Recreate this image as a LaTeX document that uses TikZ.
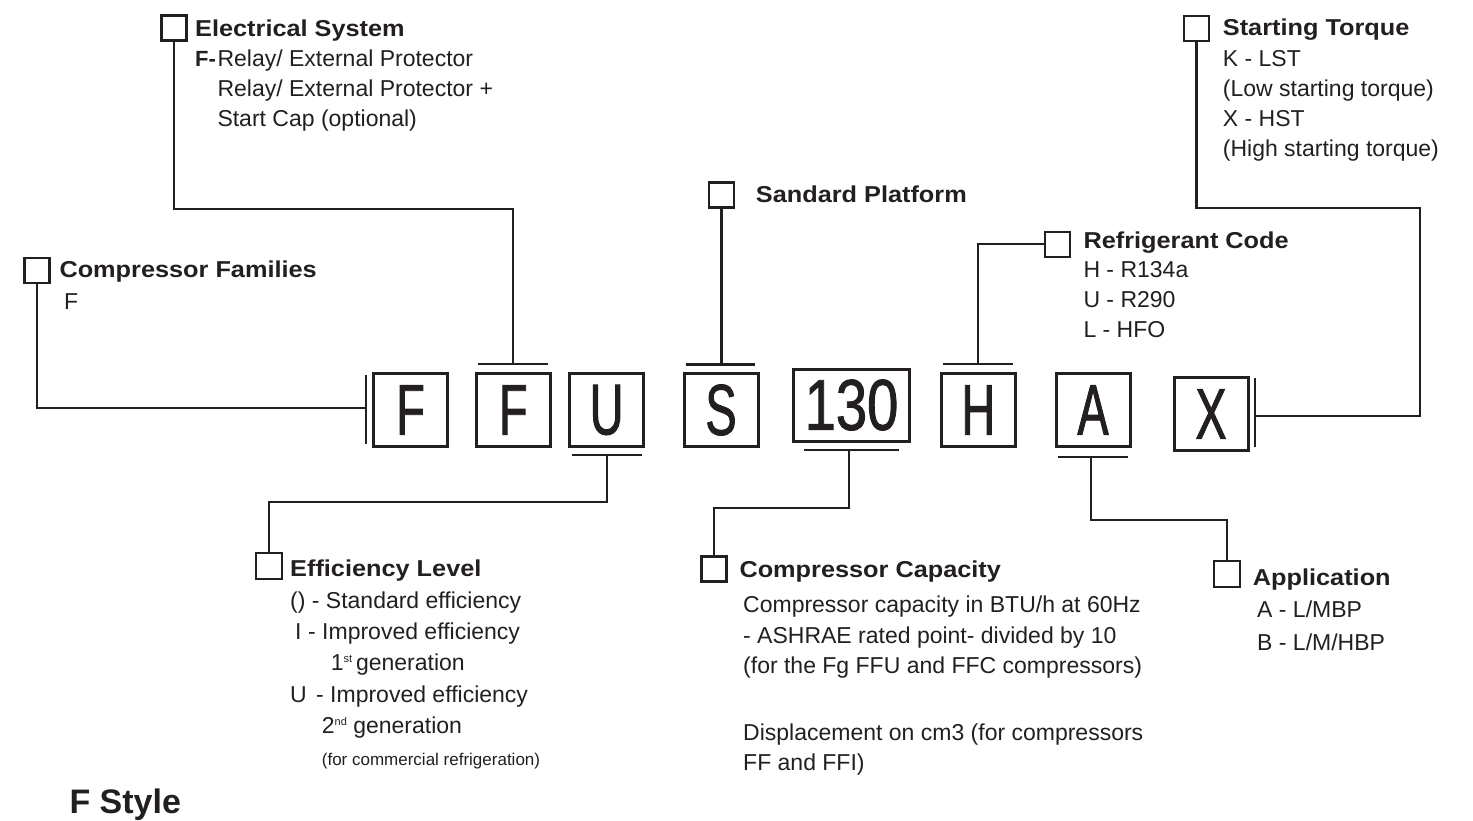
\documentclass[tikz,border=0pt]{standalone}
\usepackage{fontspec}
\setmainfont{Liberation Sans}
\newfontfamily\hfont[FakeStretch=1.1]{Liberation Sans Bold}
\newfontfamily\titlefont{Liberation Sans Bold}
\newfontfamily\bigfont[FakeStretch=0.65,FakeBold=1.2]{Liberation Sans}
\newfontfamily\digfont[FakeStretch=0.78,FakeBold=1.2]{Liberation Sans}
\definecolor{ink}{RGB}{35,31,32}
\begin{document}
\begin{tikzpicture}[x=1pt,y=-1pt,
  cell/.style={draw=ink, line width=3pt, minimum width=74pt, minimum height=73pt, inner sep=0pt,
    font=\bigfont\fontsize{72}{72}\selectfont, text=ink},
  tag/.style={draw=ink, line width=2.4pt, minimum size=25pt, inner sep=0pt},
  wire/.style={draw=ink, line width=2.2pt},
  hd/.style={anchor=base west, inner sep=0pt, font=\hfont\fontsize{23}{27}\selectfont, text=ink},
  tx/.style={anchor=base west, inner sep=0pt, font=\fontsize{23}{27}\selectfont, text=ink},
  sm/.style={anchor=base west, inner sep=0pt, font=\fontsize{17}{20}\selectfont, text=ink},
]
\useasboundingbox (0,0) rectangle (1473,820);

% letter cells
\node[cell] (b1) at (410.5,410) {F};
\node[cell] (b2) at (513.3,410) {F};
\node[cell] (b3) at (606.7,410) {U};
\node[cell] (b4) at (721,410) {S};
\node[cell, minimum width=116pt, minimum height=72pt, font=\digfont\fontsize{72}{72}\selectfont] (b5) at (851.5,405) {130};
\node[cell] (b6) at (978.3,410) {H};
\node[cell] (b7) at (1093,410) {A};
\node[cell] (b8) at (1211,414) {X};

% bars
\coordinate (b1bar) at (366,408.3);
\coordinate (b2bar) at (513.3,364.3);
\coordinate (b3bar) at (606.7,455);
\coordinate (b4bar) at (721.5,364.5);
\coordinate (b5bar) at (849,450);
\coordinate (b6bar) at (978.3,364.3);
\coordinate (b7bar) at (1090.7,457.3);
\coordinate (b8bar) at (1255,415.7);
\draw[wire] (366,375) -- (366,444);
\draw[wire] (478.3,364.3) -- (547.7,364.3);
\draw[wire] (571.7,455) -- (641.7,455);
\draw[wire] (685.7,364.5) -- (754.6,364.5);
\draw[wire] (803.6,450) -- (899,450);
\draw[wire] (943.3,364.3) -- (1012.7,364.3);
\draw[wire] (1058,457.3) -- (1127.7,457.3);
\draw[wire] (1255,378) -- (1255,446.7);

% tag boxes
\node[tag] (cfBox) at (37,270.3) {};
\node[tag] (esBox) at (174,27.8) {};
\node[tag] (spBox) at (721.5,195) {};
\node[tag] (rcBox) at (1057.5,244.2) {};
\node[tag] (stBox) at (1196.5,28.2) {};
\node[tag, minimum size=26pt] (elBox) at (269,565.8) {};
\node[tag] (ccBox) at (714,568.8) {};
\node[tag, minimum size=26pt] (apBox) at (1227,574.2) {};

% elbow levels
\coordinate (esY) at (0,209);
\coordinate (stC) at (1420,208);
\coordinate (elY) at (0,502.3);
\coordinate (ccY) at (0,508);
\coordinate (apY) at (0,520);

% connectors
\draw[wire] (cfBox.south) |- (b1bar);
\draw[wire] (esBox.south) |- (esY -| b2bar) -- (b2bar);
\draw[wire] (spBox.south) -- (b4bar);
\draw[wire] (rcBox.west) -| (b6bar);
\draw[wire] (stBox.south) |- (stC) |- (b8bar);
\draw[wire] (b3bar) -- (b3bar |- elY) -| (elBox.north);
\draw[wire] (b5bar) -- (b5bar |- ccY) -| (ccBox.north);
\draw[wire] (b7bar) -- (b7bar |- apY) -| (apBox.north);

% Compressor Families
\node[hd] (cfH) at (59.3,277) {Compressor Families};
\node[tx] (cf1) at (64,309) {F};

% Electrical System
\node[hd] (esH) at (195,36) {Electrical System};
\node[anchor=base west, inner sep=0pt, font=\titlefont\fontsize{22}{26}\selectfont, text=ink] (esF) at (195,66.7) {F-};
\node[tx] (es1) at (217.3,66.7) {Relay/ External Protector};
\node[tx] (es2) at (217.3,96.7) {Relay/ External Protector +};
\node[tx] (es3) at (217.3,126.7) {Start Cap (optional)};

% Sandard Platform
\node[hd] (spH) at (755.7,202.3) {Sandard Platform};

% Starting Torque
\node[hd] (stH) at (1222.7,35) {Starting Torque};
\node[tx] (st1) at (1222.7,66.7) {K - LST};
\node[tx] (st2) at (1222.7,96.7) {(Low starting torque)};
\node[tx] (st3) at (1222.7,126.7) {X - HST};
\node[tx] (st4) at (1222.7,156.7) {(High starting torque)};

% Refrigerant Code
\node[hd] (rcH) at (1083.3,248) {Refrigerant Code};
\node[tx] (rc1) at (1083.3,277) {H - R134a};
\node[tx] (rc2) at (1083.3,307) {U - R290};
\node[tx] (rc3) at (1083.3,337) {L - HFO};

% Efficiency Level
\node[hd] (elH) at (290,576.7) {Efficiency Level};
\node[tx] (el1) at (290,608) {() - Standard efficiency};
\node[tx] (el2a) at (295,639) {I};
\node[tx] (el2b) at (308,639) {- Improved efficiency};
\node[tx] (el3) at (330.7,670) {1\raisebox{8pt}{\fontsize{11}{11}\selectfont st}\,generation};
\node[tx] (el4a) at (290,702) {U};
\node[tx] (el4b) at (316,702) {- Improved efficiency};
\node[tx] (el5) at (321.7,733) {2\raisebox{8pt}{\fontsize{11}{11}\selectfont nd} generation};
\node[sm] (el6) at (321.7,765) {(for commercial refrigeration)};

% Compressor Capacity
\node[hd] (ccH) at (739.3,577.7) {Compressor Capacity};
\node[tx] (cc1) at (743,612.7) {Compressor capacity in BTU/h at 60Hz};
\node[tx] (cc2) at (743,643.3) {- ASHRAE rated point- divided by 10};
\node[tx] (cc3) at (743,673.3) {(for the Fg FFU and FFC compressors)};
\node[tx] (cc4) at (743,740) {Displacement on cm3 (for compressors};
\node[tx] (cc5) at (743,770) {FF and FFI)};

% Application
\node[hd] (apH) at (1252.7,585) {Application};
\node[tx] (ap1) at (1257,617.7) {A - L/MBP};
\node[tx] (ap2) at (1257,650) {B - L/M/HBP};

% title
\node[anchor=base west, inner sep=0pt, font=\titlefont\fontsize{34}{40}\selectfont, text=ink] (title) at (69.3,813.3) {F Style};
\end{tikzpicture}
\end{document}
